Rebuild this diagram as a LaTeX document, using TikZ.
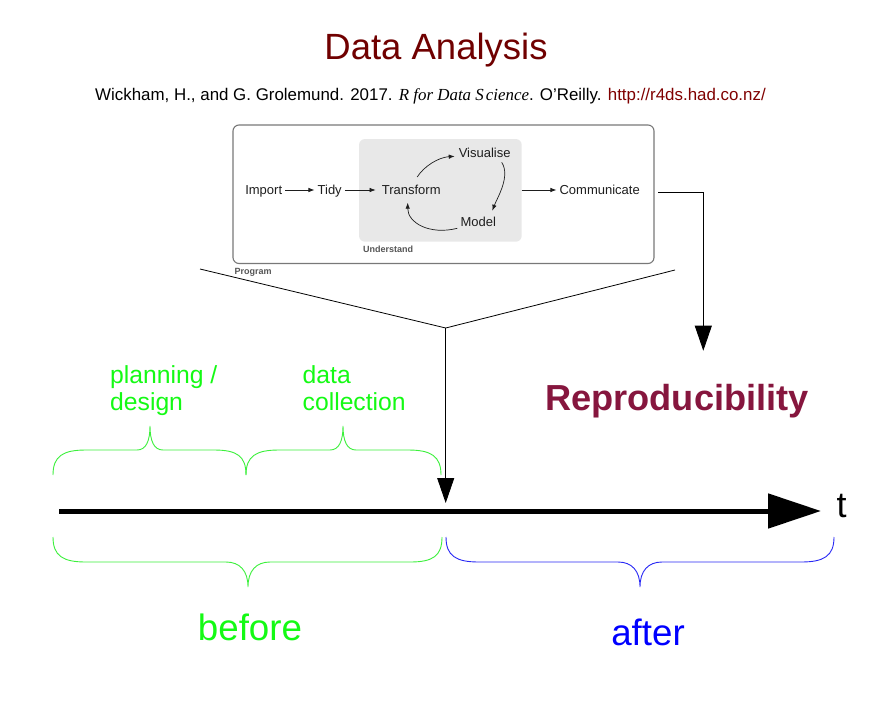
\documentclass[tikz,border=0pt]{standalone}
\usepackage{fontspec}
\setmainfont{Liberation Sans}
\newfontfamily\citeserif{Liberation Serif}
\usetikzlibrary{arrows.meta}
\definecolor{titlered}{RGB}{112,0,0}
\definecolor{urlred}{RGB}{128,0,0}
\definecolor{reprored}{RGB}{134,22,62}
\definecolor{limegreen}{RGB}{20,250,20}
\definecolor{bracegreen}{RGB}{60,240,60}
\definecolor{pureblue}{RGB}{0,0,255}
\definecolor{braceblue}{RGB}{40,40,245}
\definecolor{boxgray}{RGB}{120,120,120}
\definecolor{undgray}{RGB}{232,232,232}
\definecolor{labgray}{RGB}{85,85,85}
\definecolor{inkgray}{RGB}{30,30,30}
\newcommand{\fs}[2]{\fontsize{#1}{#2}\selectfont}
\begin{document}
\begin{tikzpicture}[x=1pt,y=-1pt,
  flowtext/.style={font=\fs{13}{15}, text=inkgray, inner sep=3pt, text height=10pt, text depth=2pt, anchor=base},
  smalllab/.style={font=\bfseries\fs{9}{10}, text=labgray, inner sep=0pt, anchor=base west},
  flowarrow/.style={draw=inkgray, line width=0.7pt, -{Latex[length=6pt,width=4.5pt]}},
  bigtip/.style={line width=0.8pt, -{Triangle[length=25pt,width=17pt]}},
  greenlab/.style={font=\fs{24.7}{27}, text=limegreen, inner sep=0pt, align=left, anchor=base west},
  greenbrace/.style={draw=bracegreen, line width=0.9pt},
  bluebrace/.style={draw=braceblue, line width=0.9pt}
]
\useasboundingbox[fill=white] (0,0) rectangle (880,704);

% title and citation
\node[font=\fs{36.5}{40}, text=titlered, inner sep=0pt, anchor=base] (title) at (436,59) {Data Analysis};
\node[font=\fs{16.9}{18}, inner sep=0pt, anchor=base west] (cite) at (95,100)
  {Wickham, H., and G. Grolemund. 2017. {\citeserif\itshape R for Data S\kern2pt cience}. O’Reilly. \textcolor{urlred}{http://r4ds.had.co.nz/}};

% program box
\draw[draw=boxgray, line width=1.1pt, rounded corners=6pt] (233,125) rectangle (654,263.5);
\fill[undgray, rounded corners=6pt] (359,139) rectangle (521.7,241.7);
\node[smalllab] (understand) at (363,252.7) {Understand};
\node[smalllab] (program) at (234.5,274.3) {Program};

% flow
\node[flowtext] (import) at (263.7,194) {Import};
\node[flowtext] (tidy) at (329.7,194) {Tidy};
\node[flowtext] (transform) at (411.2,194) {Transform};
\node[flowtext] (visualise) at (484.7,157.3) {Visualise};
\node[flowtext] (model) at (478.3,226.7) {Model};
\node[flowtext] (communicate) at (599.7,194) {Communicate};
\coordinate (undeast) at (521.7,190);

\draw[flowarrow] (import) -- (tidy);
\draw[flowarrow, shorten >=3pt] (tidy) -- (transform);
\draw[flowarrow] (undeast) -- (communicate);
\draw[flowarrow] ([shift={(6,-13)}]transform.center) .. controls +(7,-11) and +(-16,1) .. ([shift={(-30,3)}]visualise.center);
\draw[flowarrow] ([shift={(17,9)}]visualise.center) .. controls +(9,14) and +(5,-13) .. ([shift={(14,-12)}]model.center);
\draw[flowarrow] ([shift={(-21,5.6)}]model.center) .. controls +(-28,7) and +(0,20) .. ([shift={(-3.5,12.7)}]transform.center);

% connectors
\coordinate (reprotip) at (703.3,350.7);
\draw[bigtip] ([xshift=15pt,yshift=-2pt]communicate.east) -| (reprotip);
\node[font=\bfseries\fs{36.2}{40}, text=reprored, inner sep=0pt, anchor=base west] (repro) at (545,410) {Reproducibility};

\coordinate (funnelleft) at (200,269);
\coordinate (funnelright) at (675,270);
\coordinate (funneljoin) at (445.7,328);
\coordinate (nowtip) at (445.7,503);
\draw[line width=0.8pt] (funnelleft) -- (funneljoin) -- (funnelright);
\draw[bigtip] (funneljoin) -- (nowtip);

% timeline
\coordinate (tstart) at (59,511);
\coordinate (tend) at (821,511);
\draw[line width=5pt, -{Triangle[length=53pt,width=34pt]}] (tstart) -- (tend);
\node[font=\fs{36}{40}, inner sep=0pt, anchor=base west] (tlabel) at (836.5,517) {t};

% upper green braces
\draw[greenbrace] (53,475) .. controls (53,456) and (63,450) .. (86,450) -- (137,450)
  .. controls (146,450) and (150,441) .. (150,426) .. controls (150,441) and (154,450) .. (163,450)
  -- (214,450) .. controls (237,450) and (246,456) .. (246,475);
\draw[greenbrace] (246,475) .. controls (246,456) and (256,450) .. (279,450) -- (330,450)
  .. controls (339,450) and (343,441) .. (343,426) .. controls (343,441) and (347,450) .. (356,450)
  -- (408,450) .. controls (431,450) and (441,456) .. (441,475);
\node[greenlab] (plan) at (110,410) {planning /\\design};
\node[greenlab] (collect) at (302.5,410) {data\\collection};

% lower braces
\draw[greenbrace] (53,537) .. controls (53,556) and (63,562) .. (86,562) -- (226,562)
  .. controls (240,562) and (248,571) .. (248,587) .. controls (248,571) and (256,562) .. (270,562)
  -- (410,562) .. controls (433,562) and (442,556) .. (442,537);
\draw[bluebrace] (446,537) .. controls (446,556) and (456,562) .. (479,562) -- (618,562)
  .. controls (632,562) and (640,571) .. (640,587) .. controls (640,571) and (648,562) .. (662,562)
  -- (801,562) .. controls (824,562) and (834,556) .. (834,537);
\node[font=\fs{36.7}{40}, text=limegreen, inner sep=0pt, anchor=base] (before) at (250,640) {before};
\node[font=\fs{36.7}{40}, text=pureblue, inner sep=0pt, anchor=base] (after) at (648,645) {after};
\end{tikzpicture}
\end{document}
